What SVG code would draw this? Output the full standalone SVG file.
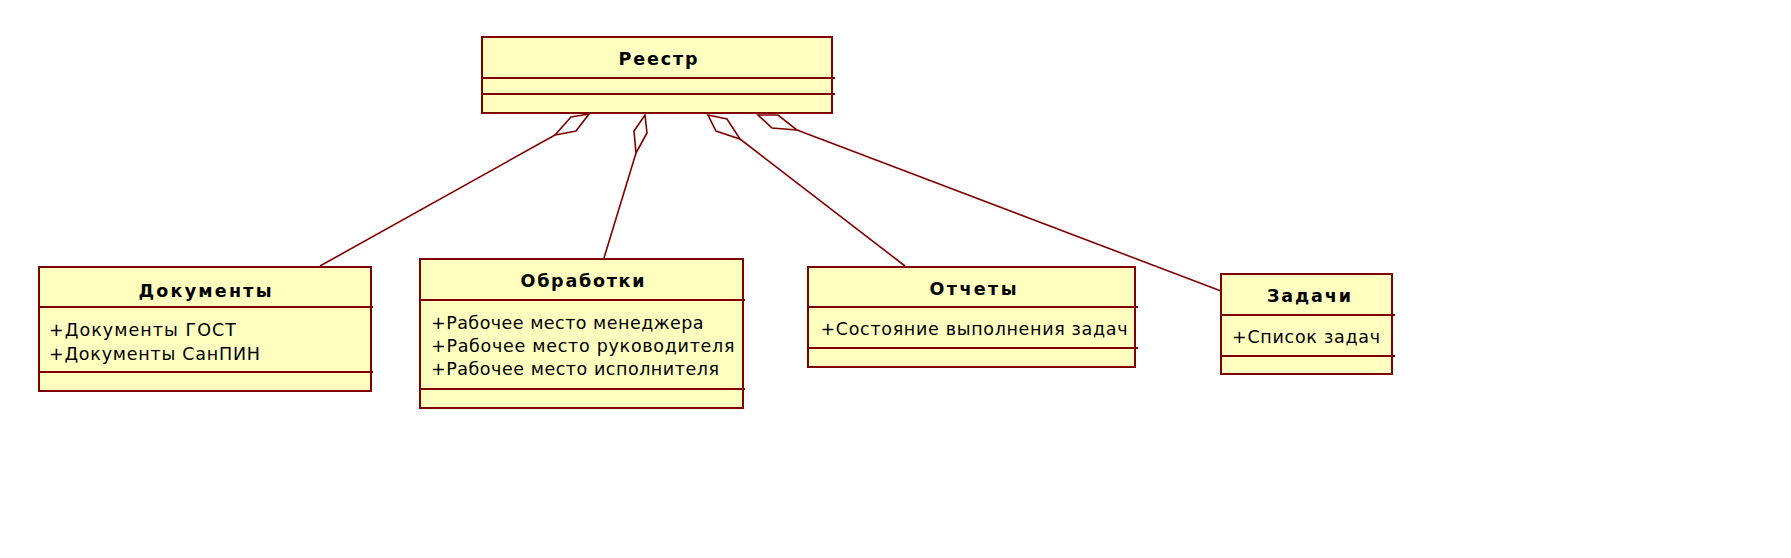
<svg xmlns="http://www.w3.org/2000/svg" width="1791" height="558" viewBox="0 0 1791 558">
<style>
.box{fill:#FFFFC0;stroke:#800000;stroke-width:2}
.div{stroke:#800000;stroke-width:2}
.con{fill:none;stroke:#800000;stroke-width:1.6}
.dia{fill:none;stroke:#800000;stroke-width:1.6;stroke-linejoin:miter}
.t{font-family:"DejaVu Sans","Liberation Sans",sans-serif;font-size:17.5px;font-weight:bold;fill:#000;text-anchor:middle}
.a{font-family:"DejaVu Sans","Liberation Sans",sans-serif;font-size:17.5px;fill:#000}
</style>
<rect width="1791" height="558" fill="#FFFFFF"/>
<g id="connectors">
<polyline class="con" points="555,135 320,266"/>
<polygon class="dia" points="589,114 571,117 555,135 576,131"/>
<polyline class="con" points="636,153 604,258"/>
<polygon class="dia" points="645,115 634,131 636,153 647,133"/>
<polyline class="con" points="740,139 905,266"/>
<polygon class="dia" points="708,115 727,119 740,139 716,131"/>
<polyline class="con" points="797,130 1221,291"/>
<polygon class="dia" points="758,115 778,115 797,130 772,128"/>
</g>
<g id="reestr">
<rect class="box" x="482" y="37" width="350" height="76"/>
<line class="div" x1="482" y1="78" x2="835" y2="78"/>
<line class="div" x1="482" y1="94" x2="835" y2="94"/>
<text class="t" x="658" y="65" textLength="79">Реестр</text>
</g>
<g id="dokumenty">
<rect class="box" x="39" y="267" width="332" height="124"/>
<line class="div" x1="39" y1="307" x2="373" y2="307"/>
<line class="div" x1="39" y1="372" x2="373" y2="372"/>
<text class="t" x="205" y="296.5" textLength="133">Документы</text>
<text class="a" x="49" y="335.5" textLength="187">+Документы ГОСТ</text>
<text class="a" x="49" y="359.5" textLength="211">+Документы СанПИН</text>
</g>
<g id="obrabotki">
<rect class="box" x="420" y="259" width="323" height="149"/>
<line class="div" x1="420" y1="300" x2="745" y2="300"/>
<line class="div" x1="420" y1="389" x2="745" y2="389"/>
<text class="t" x="582.5" y="287" textLength="124">Обработки</text>
<text class="a" x="431" y="328.5" textLength="272.5">+Рабочее место менеджера</text>
<text class="a" x="431" y="351.5" textLength="303.5">+Рабочее место руководителя</text>
<text class="a" x="431" y="374.5" textLength="288">+Рабочее место исполнителя</text>
</g>
<g id="otchety">
<rect class="box" x="808" y="267" width="327" height="100"/>
<line class="div" x1="808" y1="307" x2="1138" y2="307"/>
<line class="div" x1="808" y1="348" x2="1138" y2="348"/>
<text class="t" x="973" y="295" textLength="87">Отчеты</text>
<text class="a" x="820.5" y="335" textLength="307">+Состояние выполнения задач</text>
</g>
<g id="zadachi">
<rect class="box" x="1221" y="274" width="171" height="100"/>
<line class="div" x1="1221" y1="315" x2="1395" y2="315"/>
<line class="div" x1="1221" y1="356" x2="1395" y2="356"/>
<text class="t" x="1309" y="302" textLength="84">Задачи</text>
<text class="a" x="1232" y="343" textLength="148">+Список задач</text>
</g>
</svg>
